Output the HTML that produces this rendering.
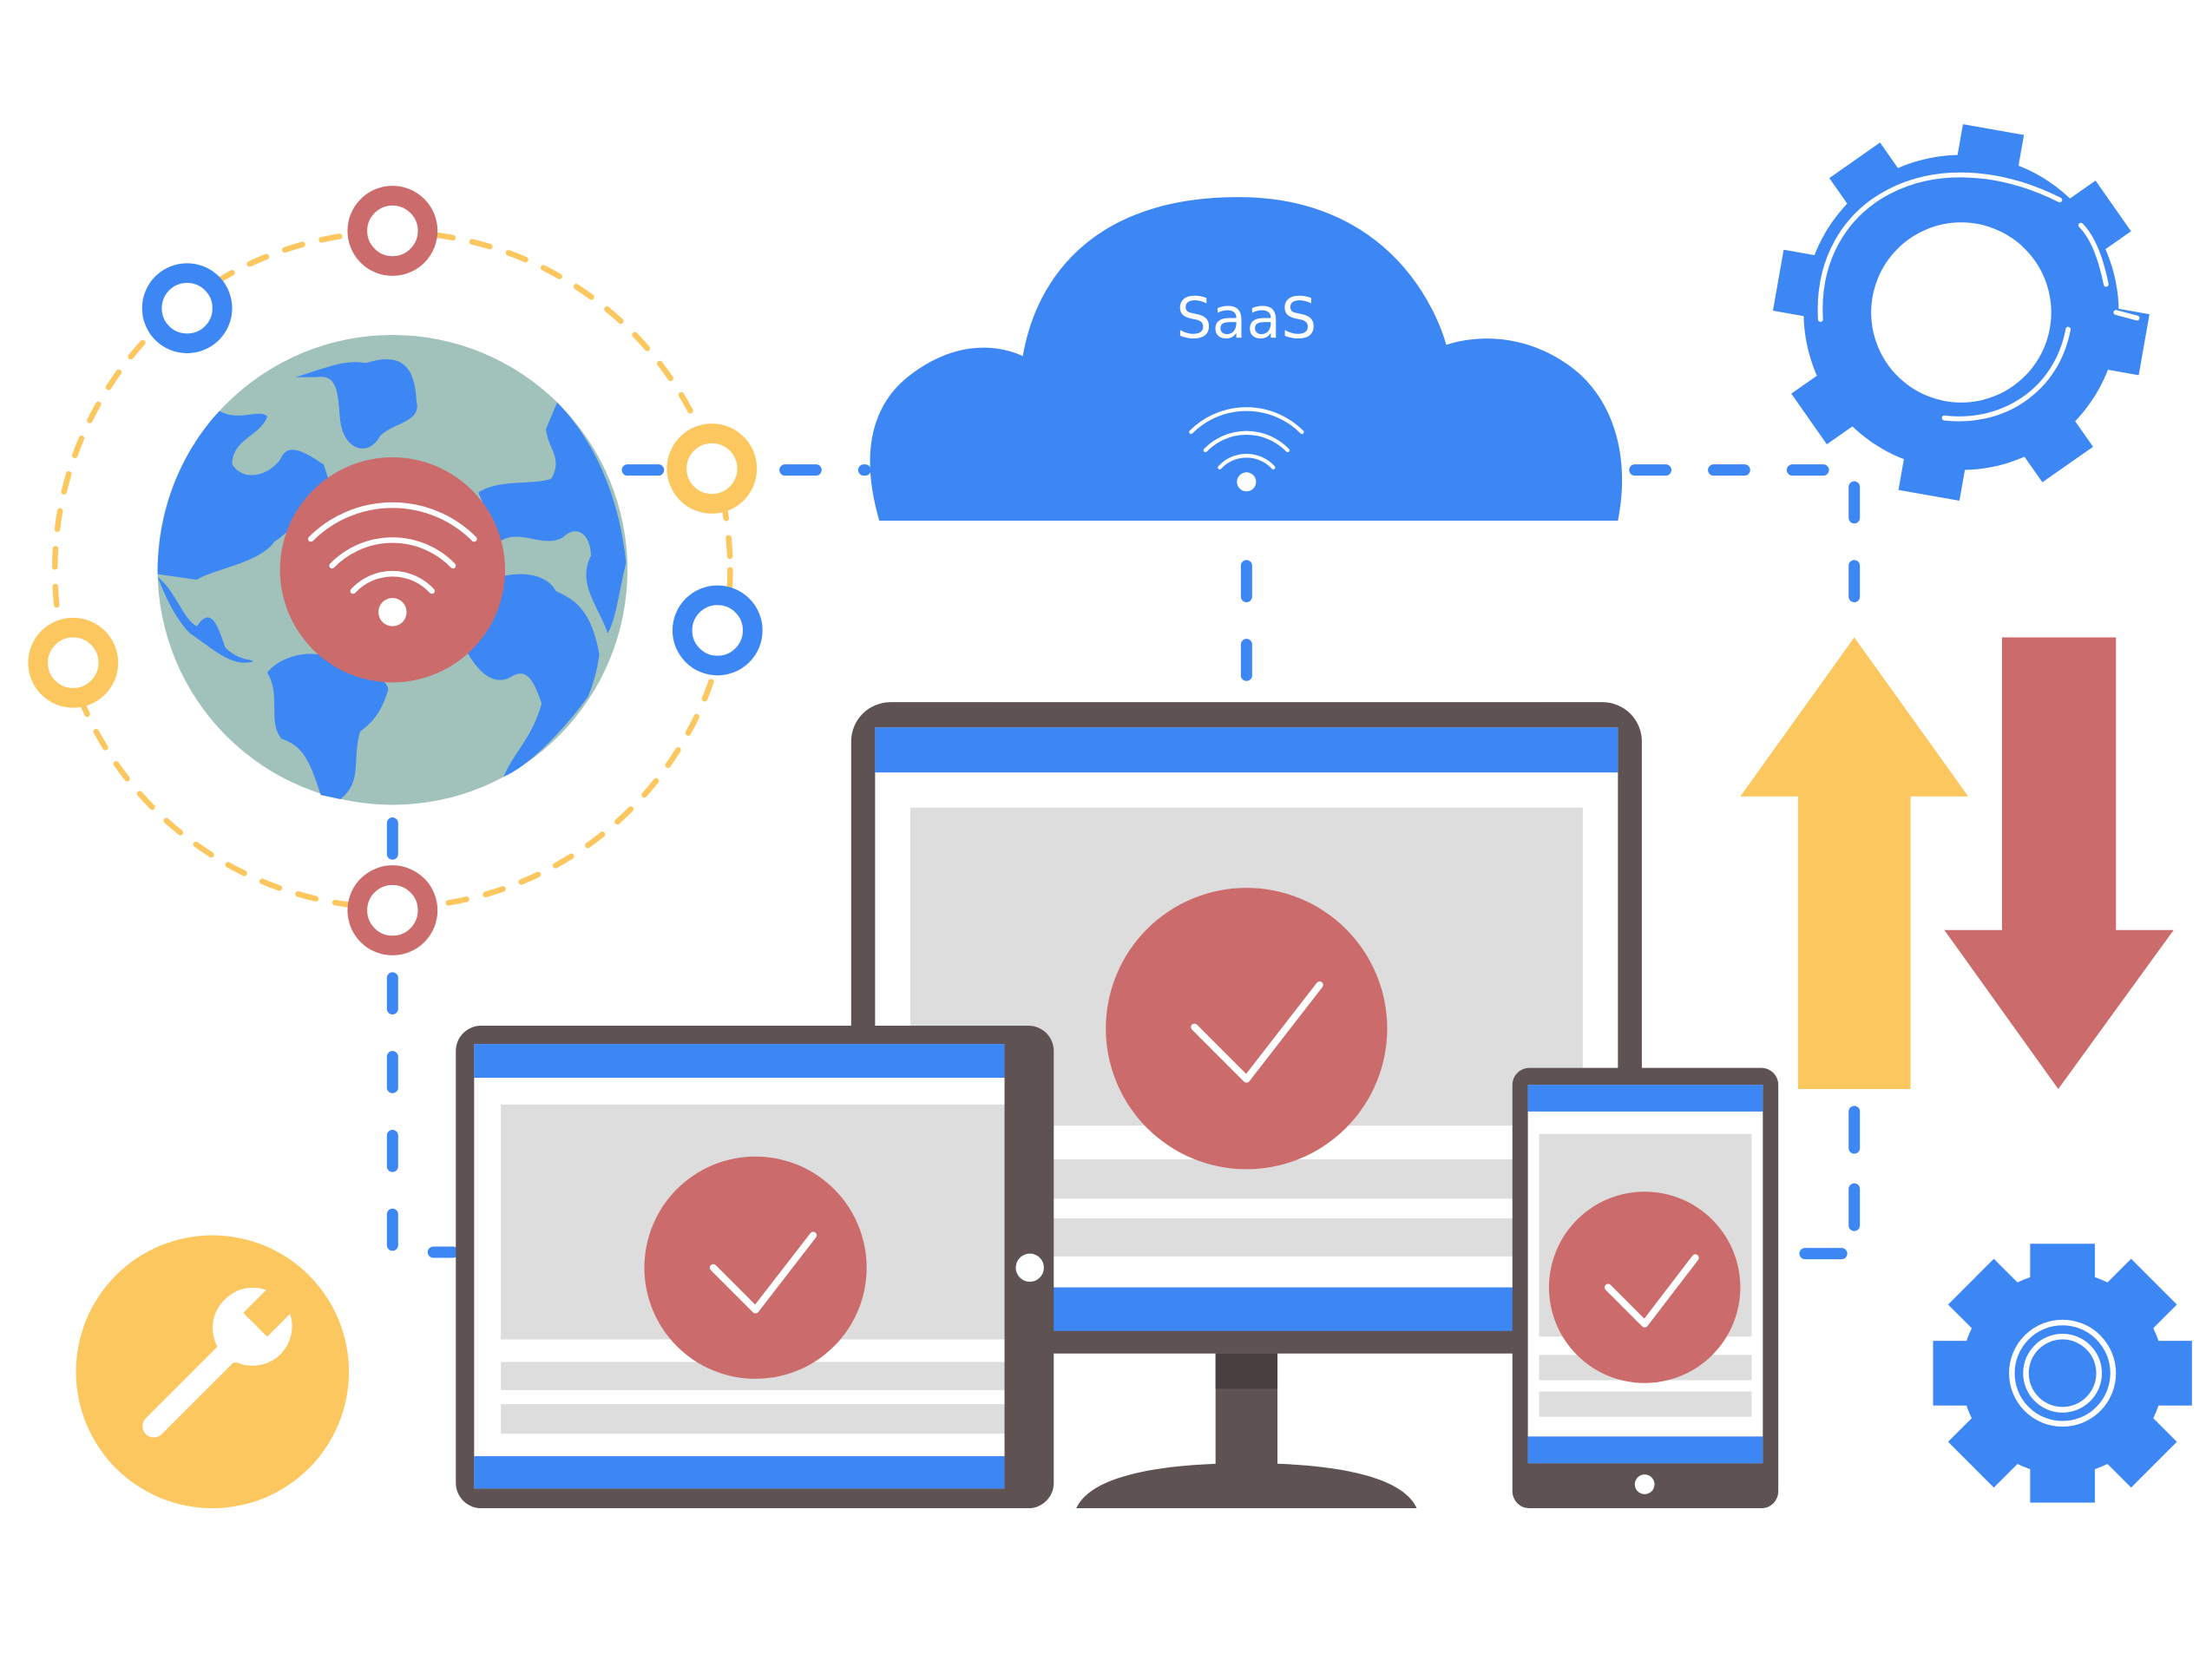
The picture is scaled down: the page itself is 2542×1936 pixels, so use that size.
<!DOCTYPE html>
<html><head><meta charset="utf-8"><style>html,body{margin:0;padding:0;background:#fff}svg{display:block}</style></head>
<body>
<svg width="2542" height="1936" viewBox="0 0 1568 1194" xmlns="http://www.w3.org/2000/svg">
<defs>
<g id="wifi" fill="none" stroke="#fff" stroke-width="4" stroke-linecap="round">
<path d="M-58,-22 A82,82 0 0 1 58,-22"/>
<path d="M-43,-3 A60,60 0 0 1 43,-3"/>
<path d="M-28,15 A38,38 0 0 1 28,15"/>
<circle cx="0" cy="30" r="10" fill="#fff" stroke="none"/>
</g>
</defs>
<rect width="1568" height="1194" fill="#fff"/>
<circle cx="279" cy="405" r="240" fill="none" stroke="#FDC75F" stroke-width="4" stroke-dasharray="13 14" stroke-linecap="round"/>
<g stroke="#3D87F5" stroke-width="8" stroke-linecap="round" fill="none" stroke-dasharray="22 34">
<path d="M446,334 H615"/>
<path d="M1162,334 H1300"/>
<path d="M1318,346 V435"/>
<path d="M886,402 V490"/>
<path d="M279,585 V612"/>
<path d="M279,695 V890 H322"/>
</g>
<g stroke="#3D87F5" stroke-width="8" stroke-linecap="round" fill="none">
<path d="M1318,790 V816"/>
<path d="M1318,845 V871"/>
<path d="M1283,891 H1309"/>
</g>
<circle cx="279" cy="405" r="167" fill="#A1C2BA"/>
<g fill="#3D87F5">
<path d="M156,292 C170,300 185,290 190,296 C185,310 165,312 165,330 C175,345 195,335 200,325 C205,315 215,320 230,330 L235,345 C220,360 210,375 195,385 C185,400 150,405 140,412 L112,408 C112,360 130,320 156,292Z"/>
<path d="M112,410 C125,420 130,440 140,445 C150,430 155,445 160,460 C170,470 178,468 180,470 C165,475 150,460 135,450 C125,440 118,425 112,410Z"/>
<path d="M210,268 C230,262 245,255 260,258 C285,250 295,260 296,285 C300,300 280,300 270,310 C262,325 245,320 242,300 C240,285 242,265 225,268 Z"/>
<path d="M396,286 C420,310 440,350 445,400 C440,420 438,440 432,450 C425,430 410,415 420,395 C420,380 410,372 400,382 C385,390 370,375 355,385 L340,350 C355,340 380,345 392,340 C400,325 390,320 388,305 Z"/>
<path d="M355,410 C375,405 390,410 395,420 C405,425 420,430 426,465 C424,480 420,490 418,495 C400,520 375,545 358,552 C365,535 378,525 385,500 C380,485 375,475 365,480 C350,490 338,475 330,460 Z"/>
<path d="M190,478 C200,465 225,460 240,470 C255,478 275,480 276,490 C270,510 262,515 256,520 C250,540 258,555 242,568 L228,565 C220,540 215,530 200,525 C190,512 200,495 190,478Z"/>
</g>
<circle cx="279" cy="405" r="80" fill="#CC6B6B"/>
<use href="#wifi" x="279" y="405"/>
<g stroke-width="14" fill="#fff">
<circle cx="279" cy="164" r="25" stroke="#CC6B6B"/>
<circle cx="133" cy="219" r="25" stroke="#3D87F5"/>
<circle cx="506" cy="333" r="25" stroke="#FDC75F"/>
<circle cx="510" cy="448" r="25" stroke="#3D87F5"/>
<circle cx="52" cy="471" r="25" stroke="#FDC75F"/>
<circle cx="279" cy="647" r="25" stroke="#CC6B6B"/>
</g>
<path d="M625,370 C612,325 618,290 645,268 C675,244 705,243 727,253 C737,195 780,140 880,140 C980,140 1018,210 1028,245 C1060,235 1095,242 1122,265 C1150,290 1158,330 1150,370 Z" fill="#3D87F5"/>
<text x="886" y="240" text-anchor="middle" font-family="DejaVu Sans, sans-serif" font-size="40" fill="#fff">SaaS</text>
<g transform="translate(886,322) scale(0.68)"><use href="#wifi"/></g>
<g transform="translate(1394,222)" fill="#3D87F5">
<circle r="112"/>
<rect x="-22" y="-132" width="44" height="30" transform="rotate(10)"/>
<rect x="-22" y="-132" width="44" height="30" transform="rotate(55)"/>
<rect x="-22" y="-132" width="44" height="30" transform="rotate(100)"/>
<rect x="-22" y="-132" width="44" height="30" transform="rotate(145)"/>
<rect x="-22" y="-132" width="44" height="30" transform="rotate(190)"/>
<rect x="-22" y="-132" width="44" height="30" transform="rotate(235)"/>
<rect x="-22" y="-132" width="44" height="30" transform="rotate(280)"/>
<rect x="-22" y="-132" width="44" height="30" transform="rotate(325)"/>
<circle r="64" fill="#fff"/>
<g fill="none" stroke="#fff" stroke-width="3.5" stroke-linecap="round">
<path d="M-100,5 C-105,-80 -20,-125 70,-80"/>
<path d="M85,-62 C95,-52 100,-35 103,-20"/>
<path d="M76,12 C68,55 30,80 -12,75"/>
<path d="M110,0 L125,4"/>
</g>
</g>
<path d="M1318,453 L1399,566 L1358,566 L1358,774 L1278,774 L1278,566 L1237,566 Z" fill="#FDC75F"/>
<path d="M1423,453 L1504,453 L1504,661 L1545,661 L1463,774 L1382,661 L1423,661 Z" fill="#CC6B6B"/>
<rect x="605" y="499" width="562" height="463" rx="28" fill="#5E5253"/>
<rect x="622" y="517" width="528" height="428" fill="#fff"/>
<rect x="622" y="517" width="528" height="32" fill="#3D87F5"/>
<rect x="647" y="574" width="478" height="226" fill="#DDDDDD"/>
<rect x="647" y="824" width="478" height="28" fill="#DDDDDD"/>
<rect x="647" y="866" width="478" height="27" fill="#DDDDDD"/>
<rect x="622" y="915" width="528" height="31" fill="#3D87F5"/>
<rect x="864" y="962" width="44" height="83" fill="#5E5253"/>
<rect x="864" y="962" width="44" height="25" fill="#4A3F40"/>
<path d="M765,1072 C775,1050 820,1040 886,1040 C952,1040 997,1050 1007,1072 Z" fill="#5E5253"/>
<circle cx="886" cy="731" r="100" fill="#CC6B6B"/>
<path d="M849,730 L886,767 L938,700" fill="none" stroke="#fff" stroke-width="5" stroke-linecap="round" stroke-linejoin="round"/>
<rect x="324" y="729" width="425" height="343" rx="18" fill="#5E5253"/>
<rect x="337" y="742" width="377" height="316" fill="#fff"/>
<rect x="337" y="742" width="377" height="24" fill="#3D87F5"/>
<rect x="356" y="785" width="358" height="167" fill="#DDDDDD"/>
<rect x="356" y="968" width="358" height="20" fill="#DDDDDD"/>
<rect x="356" y="998" width="358" height="21" fill="#DDDDDD"/>
<rect x="337" y="1035" width="377" height="23" fill="#3D87F5"/>
<circle cx="732" cy="901" r="10" fill="#fff"/>
<circle cx="537" cy="901" r="79" fill="#CC6B6B"/>
<path d="M507,901 L537,931 L578,878" fill="none" stroke="#fff" stroke-width="5" stroke-linecap="round" stroke-linejoin="round"/>
<rect x="1075" y="759" width="189" height="313" rx="12" fill="#5E5253"/>
<rect x="1086" y="771" width="167" height="269" fill="#fff"/>
<rect x="1086" y="771" width="167" height="19" fill="#3D87F5"/>
<rect x="1094" y="806" width="151" height="144" fill="#DDDDDD"/>
<rect x="1094" y="963" width="151" height="18" fill="#DDDDDD"/>
<rect x="1094" y="989" width="151" height="18" fill="#DDDDDD"/>
<rect x="1086" y="1021" width="167" height="19" fill="#3D87F5"/>
<circle cx="1169" cy="1055" r="7" fill="#fff"/>
<circle cx="1169" cy="915" r="68" fill="#CC6B6B"/>
<path d="M1143,915 L1169,941 L1205,894" fill="none" stroke="#fff" stroke-width="5" stroke-linecap="round" stroke-linejoin="round"/>
<circle cx="151" cy="975" r="97" fill="#FDC75F"/>
<g transform="translate(180,943) rotate(45)" fill="#fff">
<path d="M-28,0 A28,28 0 0 1 -12,-25 L-12,-2 L12,-2 L12,-25 A28,28 0 0 1 10,26 L8,28 L8,100 A8,8 0 0 1 -8,100 L-8,28 A28,28 0 0 1 -28,0 Z"/>
</g>
<g transform="translate(1466,976)" fill="#3D87F5">
<circle r="72"/>
<rect x="-23" y="-92" width="46" height="30"/>
<rect x="-23" y="-92" width="46" height="30" transform="rotate(45)"/>
<rect x="-23" y="-92" width="46" height="30" transform="rotate(90)"/>
<rect x="-23" y="-92" width="46" height="30" transform="rotate(135)"/>
<rect x="-23" y="-92" width="46" height="30" transform="rotate(180)"/>
<rect x="-23" y="-92" width="46" height="30" transform="rotate(225)"/>
<rect x="-23" y="-92" width="46" height="30" transform="rotate(270)"/>
<rect x="-23" y="-92" width="46" height="30" transform="rotate(315)"/>
<circle r="36" fill="none" stroke="#fff" stroke-width="4"/>
<circle r="28" fill="#fff"/>
<circle r="24" fill="#3D87F5"/>
</g>
</svg>
</body></html>
